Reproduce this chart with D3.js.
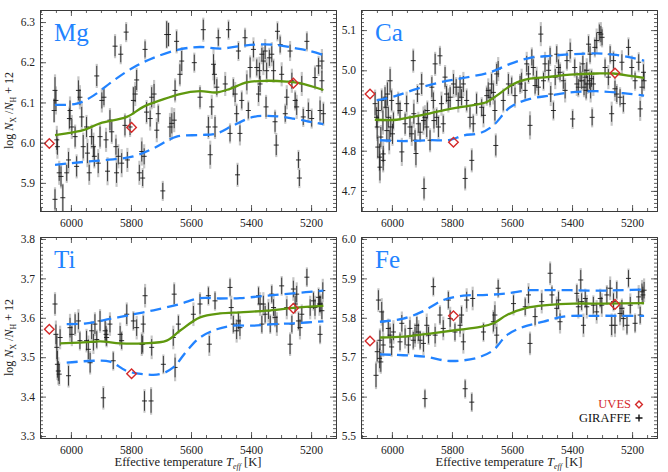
<!DOCTYPE html>
<html><head><meta charset="utf-8">
<script src="https://cdn.jsdelivr.net/npm/d3@7"></script>
<style>html,body{margin:0;padding:0;background:#fff}svg{display:block}
svg text{font-family:"Liberation Serif","Times New Roman",Times,serif !important}</style>
</head><body>
<svg id="c" width="668" height="472"></svg>
<script>
// ---------------- data ----------------
const tempRange = [6103, 5117];
const xTickValues = [6000, 5800, 5600, 5400, 5200];
const elements = ["Mg", "Ca", "Ti", "Fe"];
const mgRange = [5.83, 6.33], caRange = [4.65, 5.15], tiRange = [3.295, 3.805], feRange = [5.495, 6.005];
const mgTicks = [5.9, 6.0, 6.1, 6.2, 6.3];
const caTicks = [4.7, 4.8, 4.9, 5.0, 5.1];
const tiTicks = [3.3, 3.4, 3.5, 3.6, 3.7, 3.8];
const feTicks = [5.5, 5.6, 5.7, 5.8, 5.9, 6.0];

// GIRAFFE stars: [Teff, abundance, random error, total error]
const mgStars = [[6053,6.130,0.033,0.040],[6050,6.105,0.025,0.035],[6056,6.080,0.029,0.030],[6047,6.007,0.025,0.035],[6053,5.859,0.025,0.030],[6039,5.925,0.020,0.030],[6033,5.916,0.025,0.030],[6027,5.863,0.033,0.035],[6045,5.990,0.020,0.030],[6008,5.957,0.020,0.030],[6014,5.925,0.020,0.025],[6003,6.080,0.025,0.035],[6005,6.060,0.025,0.030],[5997,6.039,0.020,0.030],[5986,6.015,0.025,0.030],[5975,6.130,0.025,0.035],[5970,6.113,0.020,0.030],[5981,5.941,0.025,0.030],[5964,6.064,0.025,0.035],[5959,5.990,0.029,0.035],[5948,6.039,0.025,0.030],[5945,5.974,0.025,0.035],[5939,5.925,0.020,0.030],[5931,6.015,0.020,0.030],[5925,5.990,0.025,0.035],[5922,5.966,0.025,0.030],[5914,6.166,0.025,0.030],[5909,5.949,0.025,0.035],[5903,6.015,0.025,0.030],[5897,6.105,0.020,0.030],[5890,6.113,0.020,0.025],[5883,6.007,0.020,0.030],[5878,5.929,0.025,0.035],[5870,6.056,0.025,0.030],[5864,6.027,0.025,0.030],[5853,6.240,0.025,0.030],[5850,5.990,0.020,0.030],[5848,5.925,0.025,0.035],[5842,5.966,0.020,0.030],[5834,6.220,0.020,0.025],[5831,5.949,0.025,0.035],[5820,6.043,0.025,0.030],[5816,6.275,0.020,0.025],[5812,5.957,0.020,0.030],[5803,6.039,0.020,0.025],[5792,6.105,0.033,0.035],[5786,6.121,0.020,0.030],[5781,6.156,0.025,0.030],[5772,5.925,0.020,0.030],[5764,5.978,0.025,0.035],[5761,5.912,0.020,0.025],[5756,5.966,0.020,0.030],[5753,6.232,0.020,0.025],[5748,6.076,0.025,0.030],[5736,6.060,0.020,0.030],[5731,6.113,0.025,0.030],[5723,6.121,0.025,0.035],[5714,6.031,0.020,0.030],[5709,6.072,0.020,0.025],[5694,5.880,0.020,0.025],[5681,6.269,0.033,0.035],[5675,6.269,0.029,0.030],[5670,6.039,0.025,0.035],[5664,6.048,0.025,0.040],[5656,6.056,0.020,0.030],[5653,6.130,0.025,0.030],[5648,6.252,0.025,0.030],[5637,6.170,0.025,0.030],[5631,6.203,0.025,0.035],[5589,6.199,0.020,0.025],[5570,6.113,0.025,0.030],[5559,6.281,0.025,0.030],[5542,6.039,0.025,0.030],[5536,5.970,0.025,0.035],[5531,6.089,0.020,0.030],[5525,6.195,0.025,0.040],[5522,6.170,0.025,0.035],[5520,6.039,0.025,0.030],[5514,6.138,0.020,0.025],[5509,6.261,0.020,0.025],[5475,6.281,0.020,0.025],[5486,6.146,0.020,0.030],[5470,6.023,0.020,0.025],[5459,6.138,0.020,0.025],[5453,6.121,0.020,0.030],[5448,6.072,0.020,0.025],[5445,5.920,0.025,0.030],[5442,6.228,0.020,0.025],[5437,6.023,0.020,0.030],[5431,6.105,0.020,0.025],[5420,6.261,0.020,0.025],[5414,6.150,0.020,0.030],[5409,6.080,0.020,0.025],[5403,6.187,0.025,0.030],[5392,6.232,0.020,0.030],[5381,6.187,0.020,0.025],[5375,6.121,0.020,0.030],[5372,6.179,0.020,0.035],[5370,6.146,0.020,0.030],[5364,6.220,0.016,0.025],[5359,6.203,0.025,0.035],[5353,6.228,0.020,0.030],[5350,6.089,0.025,0.030],[5348,6.179,0.020,0.030],[5339,6.211,0.020,0.025],[5331,6.220,0.020,0.030],[5325,6.179,0.025,0.030],[5320,6.052,0.025,0.030],[5316,5.994,0.025,0.030],[5312,6.277,0.020,0.025],[5303,6.244,0.020,0.025],[5298,6.170,0.020,0.030],[5286,6.072,0.020,0.025],[5281,6.113,0.020,0.030],[5270,6.228,0.016,0.025],[5264,6.154,0.020,0.030],[5253,6.105,0.020,0.025],[5248,6.089,0.020,0.030],[5242,5.957,0.020,0.025],[5239,5.912,0.020,0.025],[5231,6.146,0.020,0.030],[5226,6.064,0.020,0.025],[5214,6.252,0.020,0.025],[5209,6.080,0.020,0.030],[5198,6.060,0.020,0.025],[5187,6.162,0.025,0.030],[5175,6.191,0.020,0.025],[5170,6.080,0.025,0.035],[5164,6.203,0.020,0.030],[5159,6.072,0.025,0.030],[5164,6.154,0.025,0.030]];

const caStars = [[6056,4.917,0.029,0.035],[6051,4.883,0.025,0.030],[6049,4.859,0.029,0.035],[6045,4.900,0.025,0.030],[6047,4.809,0.025,0.030],[6041,4.784,0.033,0.035],[6040,4.759,0.033,0.040],[6037,4.834,0.025,0.030],[6034,4.925,0.025,0.030],[6030,4.875,0.025,0.035],[6029,4.776,0.025,0.030],[6023,4.933,0.025,0.030],[6020,4.908,0.025,0.035],[6017,4.850,0.025,0.030],[6015,4.941,0.029,0.035],[6012,4.883,0.025,0.030],[6009,4.826,0.025,0.035],[6006,4.974,0.029,0.035],[6004,4.859,0.025,0.030],[6001,4.925,0.025,0.030],[6029,4.792,0.020,0.030],[5998,4.842,0.025,0.030],[5995,4.875,0.020,0.025],[5979,4.917,0.025,0.030],[5973,4.900,0.020,0.025],[5967,4.797,0.025,0.035],[5956,4.867,0.025,0.030],[5951,4.917,0.020,0.030],[5940,4.859,0.025,0.030],[5934,4.842,0.020,0.030],[5929,5.024,0.025,0.030],[5927,4.892,0.025,0.035],[5923,4.826,0.025,0.030],[5920,4.793,0.029,0.035],[5915,4.941,0.020,0.025],[5912,4.867,0.020,0.030],[5906,4.846,0.020,0.025],[5901,4.966,0.025,0.030],[5895,4.875,0.025,0.035],[5893,4.706,0.025,0.030],[5890,4.883,0.020,0.030],[5884,4.859,0.025,0.030],[5882,4.900,0.020,0.025],[5873,4.826,0.025,0.030],[5867,4.958,0.025,0.030],[5862,4.925,0.020,0.025],[5860,4.875,0.020,0.030],[5856,5.016,0.025,0.030],[5851,4.883,0.020,0.025],[5845,4.859,0.025,0.030],[5840,5.036,0.020,0.025],[5835,4.917,0.020,0.030],[5829,4.867,0.020,0.025],[5823,4.983,0.025,0.030],[5818,4.941,0.020,0.025],[5812,4.925,0.020,0.030],[5806,4.933,0.025,0.030],[5795,4.966,0.025,0.035],[5786,4.958,0.020,0.025],[5779,4.925,0.020,0.030],[5773,4.958,0.025,0.030],[5768,4.933,0.020,0.025],[5762,4.966,0.020,0.030],[5756,4.731,0.025,0.030],[5751,4.925,0.025,0.030],[5740,4.883,0.025,0.030],[5734,4.776,0.025,0.030],[5729,4.867,0.020,0.025],[5718,4.917,0.025,0.030],[5701,4.908,0.020,0.025],[5695,4.888,0.020,0.030],[5684,4.937,0.020,0.025],[5679,4.950,0.020,0.030],[5673,4.933,0.020,0.025],[5668,4.966,0.025,0.030],[5662,4.945,0.020,0.030],[5657,4.900,0.025,0.035],[5654,4.813,0.025,0.030],[5651,4.991,0.025,0.030],[5646,5.003,0.020,0.030],[5629,4.925,0.025,0.030],[5612,4.966,0.025,0.030],[5601,4.962,0.020,0.025],[5590,4.937,0.020,0.030],[5573,4.966,0.020,0.025],[5568,4.974,0.020,0.030],[5556,4.950,0.020,0.025],[5551,5.016,0.020,0.030],[5545,4.991,0.020,0.025],[5540,4.863,0.025,0.035],[5534,5.032,0.020,0.025],[5529,5.007,0.020,0.030],[5523,4.962,0.020,0.025],[5518,4.979,0.020,0.030],[5512,4.958,0.020,0.025],[5504,5.090,0.020,0.030],[5495,4.974,0.020,0.025],[5490,5.016,0.020,0.030],[5478,5.000,0.025,0.030],[5473,5.036,0.020,0.025],[5471,4.941,0.020,0.030],[5462,4.900,0.020,0.025],[5456,4.983,0.020,0.030],[5451,5.040,0.020,0.025],[5445,5.007,0.020,0.030],[5440,4.995,0.020,0.025],[5429,4.974,0.020,0.025],[5423,4.950,0.020,0.030],[5417,5.024,0.020,0.025],[5406,5.049,0.020,0.030],[5398,4.879,0.020,0.025],[5391,5.007,0.020,0.025],[5384,4.966,0.020,0.030],[5379,4.958,0.020,0.025],[5373,4.991,0.020,0.030],[5368,4.974,0.020,0.025],[5364,5.016,0.020,0.030],[5360,4.958,0.020,0.025],[5357,4.983,0.020,0.030],[5353,4.950,0.020,0.025],[5351,5.000,0.020,0.030],[5349,4.966,0.020,0.025],[5345,5.065,0.020,0.025],[5342,4.974,0.020,0.030],[5340,5.040,0.020,0.025],[5338,4.950,0.020,0.030],[5335,4.979,0.020,0.025],[5333,4.883,0.020,0.025],[5329,4.966,0.020,0.030],[5324,5.057,0.020,0.025],[5318,5.074,0.020,0.030],[5309,5.094,0.020,0.025],[5304,5.090,0.020,0.030],[5300,5.082,0.020,0.025],[5290,5.007,0.020,0.025],[5279,4.983,0.020,0.030],[5273,5.040,0.020,0.025],[5268,4.892,0.020,0.030],[5262,5.024,0.020,0.025],[5257,4.954,0.020,0.030],[5251,4.941,0.020,0.025],[5240,4.933,0.020,0.025],[5234,5.020,0.020,0.030],[5229,4.917,0.020,0.025],[5212,5.057,0.020,0.025],[5201,5.007,0.020,0.030],[5190,4.974,0.020,0.025],[5178,5.020,0.020,0.025],[5173,4.904,0.020,0.030],[5167,4.958,0.020,0.025],[5162,4.995,0.020,0.030],[5160,4.974,0.020,0.025]];

const tiStars = [[6053,3.635,0.025,0.030],[6050,3.558,0.025,0.035],[6047,3.525,0.030,0.035],[6045,3.482,0.034,0.040],[6042,3.465,0.025,0.035],[6039,3.457,0.025,0.030],[6036,3.550,0.021,0.030],[6008,3.453,0.025,0.030],[6003,3.575,0.025,0.035],[5997,3.558,0.021,0.030],[5986,3.584,0.025,0.030],[5975,3.592,0.021,0.030],[5970,3.542,0.021,0.025],[5948,3.542,0.025,0.030],[5942,3.520,0.025,0.035],[5936,3.486,0.025,0.030],[5931,3.567,0.021,0.025],[5925,3.538,0.021,0.030],[5920,3.584,0.025,0.030],[5914,3.545,0.021,0.025],[5903,3.592,0.025,0.030],[5892,3.397,0.025,0.030],[5886,3.567,0.025,0.030],[5883,3.558,0.021,0.030],[5881,3.550,0.021,0.025],[5870,3.584,0.021,0.030],[5859,3.491,0.021,0.025],[5836,3.558,0.021,0.030],[5831,3.542,0.021,0.025],[5814,3.609,0.025,0.030],[5792,3.592,0.021,0.025],[5781,3.575,0.021,0.030],[5764,3.533,0.025,0.030],[5759,3.584,0.021,0.025],[5753,3.656,0.021,0.030],[5761,3.533,0.021,0.025],[5755,3.389,0.025,0.030],[5733,3.389,0.030,0.035],[5731,3.525,0.021,0.030],[5692,3.482,0.021,0.025],[5659,3.550,0.021,0.030],[5656,3.660,0.025,0.030],[5653,3.474,0.025,0.035],[5642,3.584,0.021,0.025],[5592,3.609,0.021,0.030],[5570,3.635,0.025,0.030],[5542,3.656,0.021,0.025],[5539,3.533,0.021,0.030],[5520,3.643,0.021,0.025],[5470,3.677,0.021,0.025],[5466,3.626,0.021,0.030],[5459,3.584,0.021,0.025],[5448,3.567,0.021,0.030],[5442,3.592,0.021,0.025],[5437,3.575,0.021,0.030],[5375,3.656,0.021,0.025],[5370,3.635,0.021,0.030],[5364,3.584,0.021,0.025],[5359,3.635,0.021,0.030],[5353,3.609,0.021,0.025],[5342,3.618,0.021,0.030],[5336,3.584,0.021,0.025],[5331,3.660,0.021,0.025],[5325,3.626,0.021,0.030],[5320,3.601,0.021,0.025],[5314,3.584,0.021,0.030],[5298,3.681,0.021,0.025],[5281,3.626,0.021,0.030],[5270,3.533,0.025,0.030],[5264,3.584,0.021,0.025],[5259,3.673,0.021,0.030],[5253,3.635,0.021,0.025],[5248,3.660,0.021,0.030],[5242,3.592,0.021,0.025],[5237,3.575,0.021,0.030],[5231,3.609,0.021,0.025],[5214,3.703,0.021,0.025],[5203,3.626,0.021,0.030],[5192,3.643,0.021,0.025],[5187,3.626,0.021,0.030],[5175,3.652,0.021,0.025],[5172,3.635,0.021,0.030],[5170,3.558,0.021,0.025],[5168,3.635,0.021,0.025],[5161,3.669,0.021,0.030],[5164,3.618,0.021,0.025]];

const feStars = [[6053,5.654,0.030,0.035],[6049,5.714,0.025,0.030],[6045,5.845,0.025,0.030],[6041,5.697,0.025,0.035],[6040,5.743,0.025,0.030],[6037,5.688,0.025,0.030],[6034,5.815,0.025,0.035],[6030,5.790,0.025,0.030],[6029,5.731,0.021,0.030],[6012,5.773,0.021,0.025],[6006,5.756,0.021,0.030],[6001,5.726,0.021,0.025],[5995,5.764,0.021,0.030],[5973,5.739,0.021,0.025],[5967,5.786,0.021,0.030],[5956,5.752,0.021,0.030],[5945,5.731,0.021,0.025],[5940,5.773,0.021,0.030],[5929,5.743,0.021,0.025],[5923,5.756,0.021,0.030],[5917,5.781,0.021,0.025],[5912,5.764,0.021,0.030],[5906,5.743,0.021,0.025],[5895,5.735,0.021,0.030],[5890,5.595,0.021,0.025],[5884,5.781,0.021,0.030],[5878,5.756,0.021,0.025],[5862,5.879,0.021,0.025],[5856,5.756,0.021,0.030],[5840,5.807,0.021,0.025],[5829,5.773,0.021,0.030],[5812,5.845,0.021,0.025],[5806,5.798,0.021,0.030],[5790,5.764,0.021,0.025],[5773,5.781,0.021,0.030],[5768,5.807,0.021,0.025],[5762,5.739,0.021,0.030],[5756,5.620,0.021,0.025],[5751,5.845,0.021,0.030],[5734,5.586,0.021,0.025],[5731,5.849,0.021,0.030],[5695,5.764,0.021,0.025],[5662,5.790,0.025,0.030],[5657,5.807,0.025,0.035],[5651,5.756,0.021,0.030],[5646,5.875,0.021,0.025],[5595,5.836,0.021,0.030],[5556,5.828,0.021,0.025],[5545,5.858,0.021,0.030],[5540,5.735,0.025,0.030],[5523,5.803,0.021,0.025],[5501,5.841,0.021,0.030],[5473,5.913,0.025,0.030],[5467,5.858,0.021,0.025],[5451,5.824,0.021,0.030],[5445,5.845,0.021,0.025],[5440,5.790,0.021,0.030],[5384,5.862,0.021,0.025],[5379,5.828,0.021,0.030],[5371,5.896,0.025,0.030],[5368,5.841,0.021,0.025],[5362,5.781,0.021,0.030],[5356,5.849,0.021,0.025],[5351,5.828,0.021,0.030],[5329,5.832,0.021,0.025],[5318,5.815,0.021,0.030],[5306,5.849,0.021,0.025],[5301,5.832,0.021,0.030],[5284,5.858,0.021,0.025],[5273,5.875,0.021,0.030],[5268,5.781,0.025,0.030],[5262,5.841,0.021,0.025],[5257,5.781,0.021,0.030],[5251,5.870,0.021,0.025],[5240,5.811,0.021,0.030],[5234,5.824,0.021,0.025],[5229,5.798,0.021,0.030],[5217,5.781,0.021,0.025],[5212,5.900,0.021,0.025],[5206,5.832,0.021,0.030],[5190,5.786,0.021,0.025],[5178,5.853,0.021,0.030],[5173,5.807,0.021,0.025],[5167,5.866,0.021,0.030],[5164,5.858,0.021,0.025],[5160,5.870,0.021,0.030]];

// UVES stars: [Teff, abundance]
const mgUves = [[6072,5.998],[5798,6.038],[5259,6.148]];
const caUves = [[6073,4.941],[5795,4.821],[5257,4.993]];
const tiUves = [[6072,3.571],[5798,3.458],[5259,3.624]];
const feUves = [[6073,5.741],[5795,5.805],[5257,5.834]];

// running mean (green) and +/- 1 sigma envelope (blue dashed)
const mgMean = [[6053,6.019],[6014,6.023],[5959,6.031],[5903,6.048],[5814,6.064],[5759,6.089],[5703,6.105],[5637,6.121],[5570,6.128],[5514,6.125],[5470,6.134],[5414,6.150],[5348,6.154],[5281,6.152],[5237,6.148],[5159,6.131]];
const mgUpper = [[6053,6.094],[5981,6.097],[5925,6.117],[5859,6.154],[5792,6.187],[5725,6.211],[5637,6.232],[5570,6.238],[5503,6.234],[5437,6.240],[5381,6.244],[5314,6.243],[5259,6.236],[5203,6.228],[5159,6.218]];
const mgLower = [[6053,5.945],[5959,5.952],[5881,5.957],[5792,5.966],[5725,5.986],[5648,6.015],[5570,6.019],[5514,6.023],[5459,6.043],[5392,6.064],[5325,6.066],[5259,6.060],[5203,6.052],[5159,6.046]];
const caMean = [[6057,4.877],[5984,4.877],[5940,4.883],[5873,4.893],[5806,4.904],[5740,4.912],[5684,4.921],[5651,4.937],[5595,4.966],[5540,4.979],[5484,4.983],[5406,4.989],[5318,4.992],[5262,4.992],[5206,4.986],[5160,4.981]];
const caUpper = [[6051,4.925],[5984,4.937],[5917,4.954],[5840,4.970],[5762,4.981],[5673,4.995],[5606,5.016],[5540,5.031],[5473,5.036],[5395,5.040],[5318,5.042],[5262,5.039],[5206,5.032],[5160,5.024]];
const caLower = [[6040,4.826],[5962,4.824],[5873,4.826],[5806,4.827],[5762,4.838],[5706,4.844],[5662,4.863],[5606,4.908],[5540,4.929],[5473,4.937],[5406,4.945],[5318,4.948],[5229,4.943],[5160,4.937]];
const tiMean = [[6036,3.535],[5970,3.537],[5903,3.540],[5836,3.535],[5759,3.535],[5681,3.542],[5637,3.567],[5570,3.601],[5503,3.611],[5437,3.614],[5348,3.618],[5259,3.625],[5159,3.630]];
const tiUpper = [[6014,3.584],[5948,3.586],[5870,3.597],[5792,3.609],[5725,3.619],[5637,3.635],[5570,3.650],[5503,3.649],[5437,3.650],[5348,3.656],[5259,3.662],[5159,3.669]];
const tiLower = [[6014,3.486],[5925,3.491],[5870,3.489],[5814,3.465],[5759,3.457],[5703,3.457],[5659,3.474],[5614,3.516],[5570,3.550],[5514,3.571],[5459,3.580],[5392,3.580],[5325,3.584],[5259,3.586],[5159,3.591]];
const feMean = [[6040,5.750],[5962,5.752],[5873,5.760],[5784,5.769],[5706,5.777],[5662,5.786],[5617,5.807],[5551,5.825],[5484,5.832],[5395,5.836],[5295,5.836],[5160,5.837]];
const feUpper = [[6040,5.790],[5962,5.798],[5895,5.817],[5829,5.845],[5762,5.856],[5684,5.858],[5617,5.862],[5540,5.870],[5484,5.870],[5406,5.870],[5318,5.869],[5229,5.870],[5160,5.872]];
const feLower = [[6040,5.707],[5962,5.705],[5884,5.701],[5818,5.691],[5762,5.692],[5706,5.701],[5662,5.718],[5617,5.756],[5562,5.777],[5495,5.790],[5429,5.803],[5318,5.805],[5229,5.805],[5160,5.805]];

const legendLabels = ["UVES", "GIRAFFE"];

// ---------------- drawing ----------------
const svg = d3.select("#c");
const serif = "Liberation Serif";
const C = {green:"#5f980e", blue:"#2283ff", red:"#d42a2a", gray:"#b4b4b4", ink:"#1a1a1a", frame:"#3a3a3a"};

const panels = [
  {name:elements[0], stars:mgStars, uves:mgUves, mean:mgMean, up:mgUpper, lo:mgLower, range:mgRange, ticks:mgTicks, col:0, row:0},
  {name:elements[1], stars:caStars, uves:caUves, mean:caMean, up:caUpper, lo:caLower, range:caRange, ticks:caTicks, col:1, row:0},
  {name:elements[2], stars:tiStars, uves:tiUves, mean:tiMean, up:tiUpper, lo:tiLower, range:tiRange, ticks:tiTicks, col:0, row:1},
  {name:elements[3], stars:feStars, uves:feUves, mean:feMean, up:feUpper, lo:feLower, range:feRange, ticks:feTicks, col:1, row:1}
];
const colX = [[40, 336], [361, 657]];
const rowY = [[10, 211], [237, 438]];

function minorRange(a, b, step) {
  const out = [];
  const lo = Math.min(a, b), hi = Math.max(a, b);
  for (let v = Math.ceil(lo / step - 1e-9) * step; v <= hi + 1e-9; v += step) out.push(+v.toFixed(4));
  return out;
}

panels.forEach((p, i) => {
  const [x0, x1] = colX[p.col], [y0, y1] = rowY[p.row];
  const x = d3.scaleLinear().domain(tempRange).range([x0, x1]);
  const y = d3.scaleLinear().domain(p.range).range([y1, y0]);
  const clipId = "clip" + i;
  svg.append("clipPath").attr("id", clipId).append("rect")
    .attr("x", x0).attr("y", y0).attr("width", x1 - x0).attr("height", y1 - y0);
  const g = svg.append("g").attr("clip-path", `url(#${clipId})`);

  // total error bars (gray)
  g.selectAll(".sys").data(p.stars).join("line")
    .attr("x1", d => x(d[0])).attr("x2", d => x(d[0]))
    .attr("y1", d => y(d[1] - d[3])).attr("y2", d => y(d[1] + d[3]))
    .attr("stroke", C.gray).attr("stroke-width", 2.2).attr("opacity", 0.75);
  // random error bars (black)
  g.selectAll(".err").data(p.stars).join("line")
    .attr("x1", d => x(d[0])).attr("x2", d => x(d[0]))
    .attr("y1", d => y(d[1] - d[2])).attr("y2", d => y(d[1] + d[2]))
    .attr("stroke", C.ink).attr("stroke-width", 0.8);
  // plus markers
  g.selectAll(".pl").data(p.stars).join("line")
    .attr("x1", d => x(d[0]) - 2.5).attr("x2", d => x(d[0]) + 2.5)
    .attr("y1", d => y(d[1])).attr("y2", d => y(d[1]))
    .attr("stroke", C.ink).attr("stroke-width", 0.9);

  const line = d3.line().x(d => x(d[0])).y(d => y(d[1])).curve(d3.curveCatmullRom.alpha(0.5));
  [p.up, p.lo].forEach(arr => {
    g.append("path").datum(arr).attr("d", line).attr("fill", "none")
      .attr("stroke", C.blue).attr("stroke-width", 2.3).attr("stroke-dasharray", "11,6");
  });
  g.append("path").datum(p.mean).attr("d", line).attr("fill", "none")
    .attr("stroke", C.green).attr("stroke-width", 2.3);

  // UVES diamonds
  const dia = "M0,-4.8L4.8,0L0,4.8L-4.8,0Z";
  svg.append("g").selectAll("path").data(p.uves).join("path")
    .attr("d", dia).attr("transform", d => `translate(${x(d[0])},${y(d[1])})`)
    .attr("fill", "none").attr("stroke", C.red).attr("stroke-width", 1.4);

  // axes: major and minor ticks, inward on all four sides
  const xMinor = minorRange(tempRange[0], tempRange[1], 50);
  const yMinor = minorRange(p.range[0], p.range[1], 0.01);
  const ax = svg.append("g");
  const fmt = d3.format(".1f");

  ax.append("g").attr("transform", `translate(0,${y1})`)
    .call(d3.axisBottom(x).tickValues(xTickValues).tickSize(-6).tickSizeOuter(0).tickPadding(8).tickFormat(d3.format("d")));
  ax.append("g").attr("transform", `translate(0,${y1})`)
    .call(d3.axisBottom(x).tickValues(xMinor).tickSize(-3).tickSizeOuter(0).tickFormat(""));
  ax.append("g").attr("transform", `translate(0,${y0})`)
    .call(d3.axisTop(x).tickValues(xTickValues).tickSize(-6).tickSizeOuter(0).tickFormat(""));
  ax.append("g").attr("transform", `translate(0,${y0})`)
    .call(d3.axisTop(x).tickValues(xMinor).tickSize(-3).tickSizeOuter(0).tickFormat(""));
  ax.append("g").attr("transform", `translate(${x0},0)`)
    .call(d3.axisLeft(y).tickValues(p.ticks).tickSize(-6).tickSizeOuter(0).tickPadding(5).tickFormat(fmt));
  ax.append("g").attr("transform", `translate(${x0},0)`)
    .call(d3.axisLeft(y).tickValues(yMinor).tickSize(-3).tickSizeOuter(0).tickFormat(""));
  ax.append("g").attr("transform", `translate(${x1},0)`)
    .call(d3.axisRight(y).tickValues(p.ticks).tickSize(-6).tickSizeOuter(0).tickFormat(""));
  ax.append("g").attr("transform", `translate(${x1},0)`)
    .call(d3.axisRight(y).tickValues(yMinor).tickSize(-3).tickSizeOuter(0).tickFormat(""));
  ax.selectAll("path.domain").attr("stroke", C.frame).attr("stroke-width", 1);
  ax.selectAll(".tick line").attr("stroke", C.frame).attr("stroke-width", 0.8);
  ax.selectAll(".tick text").attr("font-size", 11.5).attr("fill", "#222");

  // element label
  svg.append("text").attr("x", x0 + 14).attr("y", y0 + 31)
    .attr("font-size", 25).attr("fill", C.blue).text(p.name);

  // y-axis title on left column
  if (p.col === 0) {
    const t = svg.append("text")
      .attr("transform", `translate(13,${(y0 + y1) / 2}) rotate(-90)`)
      .attr("text-anchor", "middle").attr("font-size", 12).attr("fill", "#222");
    t.append("tspan").text("log ");
    t.append("tspan").attr("font-style", "italic").text("N");
    t.append("tspan").attr("font-size", 8).attr("dy", 3).text("X");
    t.append("tspan").attr("dy", -3).text(" /");
    t.append("tspan").attr("font-style", "italic").text("N");
    t.append("tspan").attr("font-size", 8).attr("dy", 3).text("H");
    t.append("tspan").attr("dy", -3).text(" + 12");
  }
  // x-axis title on bottom row
  if (p.row === 1) {
    const t = svg.append("text").attr("x", (x0 + x1) / 2).attr("y", 466)
      .attr("text-anchor", "middle").attr("font-size", 12.5).attr("fill", "#222");
    t.append("tspan").text("Effective temperature ");
    t.append("tspan").attr("font-style", "italic").text("T");
    t.append("tspan").attr("font-size", 8).attr("dy", 3).attr("font-style", "italic").text("eff");
    t.append("tspan").attr("dy", -3).text(" [K]");
  }

  // legend in the last panel
  if (i === 3) {
    const lx = x1 - 26;
    svg.append("text").attr("x", lx).attr("y", 408).attr("text-anchor", "end")
      .attr("font-size", 12.5).attr("fill", C.red).text(legendLabels[0]);
    svg.append("path").attr("d", "M0,-3.4L3.4,0L0,3.4L-3.4,0Z")
      .attr("transform", `translate(${lx + 8},404.5)`).attr("fill", "none").attr("stroke", C.red).attr("stroke-width", 1.4);
    svg.append("text").attr("x", lx).attr("y", 422).attr("text-anchor", "end")
      .attr("font-size", 12.5).attr("fill", "#111").text(legendLabels[1]);
    svg.append("path").attr("d", "M-3.5,0H3.5M0,-3.5V3.5")
      .attr("transform", `translate(${lx + 8},418)`).attr("stroke", "#111").attr("stroke-width", 1.4);
  }
});
</script>
</body></html>
